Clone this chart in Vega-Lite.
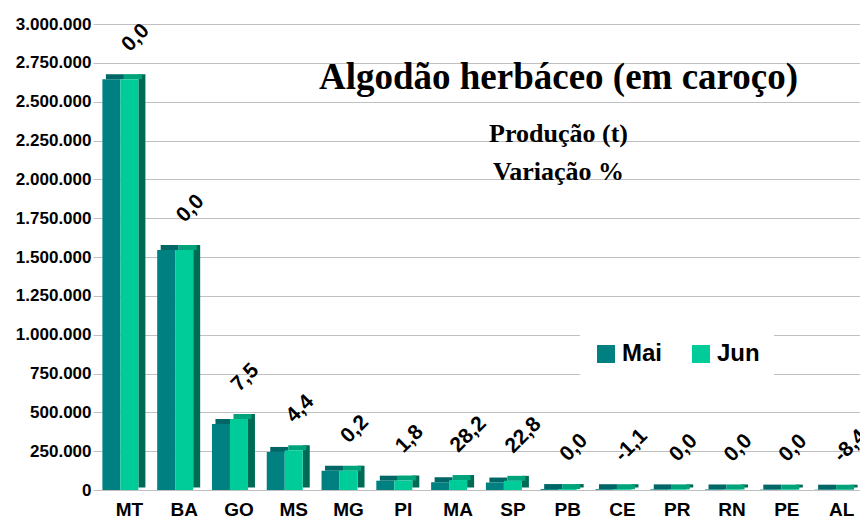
{
  "$schema": "https://vega.github.io/schema/vega-lite/v6.json",
  "autosize": {"type": "none"},
  "padding": {"left": 93, "top": 24, "right": 0, "bottom": 31},
  "width": 767,
  "height": 466,
  "background": "white",
  "config": {
    "locale": {"number": {"decimal": ",", "thousands": ".", "grouping": [3], "currency": ["R$", ""], "minus": "-"}},
    "view": {"stroke": null},
    "axisY": {
      "format": ",.0f",
      "labelOverlap": false,
      "domain": false,
      "ticks": false,
      "grid": true,
      "gridColor": "#c0c0c0",
      "gridWidth": 1,
      "labelFont": "Liberation Sans",
      "labelFontWeight": "bold",
      "labelFontSize": 17,
      "labelColor": "black",
      "labelPadding": 2,
      "title": null
    }
  },
  "title": {
    "text": "Algodão herbáceo (em caroço)",
    "subtitle": ["Produção (t)", "Variação %"],
    "font": "Liberation Serif",
    "fontSize": 37,
    "fontWeight": "bold",
    "color": "black",
    "subtitleFont": "Liberation Serif",
    "subtitleFontSize": 26,
    "subtitleFontWeight": "bold",
    "subtitleColor": "black",
    "subtitleLineHeight": 38,
    "subtitlePadding": 24,
    "anchor": "middle",
    "frame": "group",
    "dx": 82,
    "dy": 171,
    "offset": 0
  },
  "data": {
    "values": [
      {"uf": "MT", "Mai": 2645000, "Jun": 2645000, "var": 0.0},
      {"uf": "BA", "Mai": 1545000, "Jun": 1545000, "var": 0.0},
      {"uf": "GO", "Mai": 425000, "Jun": 457000, "var": 7.5},
      {"uf": "MS", "Mai": 245000, "Jun": 255800, "var": 4.4},
      {"uf": "MG", "Mai": 124000, "Jun": 124250, "var": 0.2},
      {"uf": "PI", "Mai": 60000, "Jun": 61080, "var": 1.8},
      {"uf": "MA", "Mai": 50000, "Jun": 64100, "var": 28.2},
      {"uf": "SP", "Mai": 48000, "Jun": 58940, "var": 22.8},
      {"uf": "PB", "Mai": 6000, "Jun": 6000, "var": 0.0},
      {"uf": "CE", "Mai": 5000, "Jun": 4945, "var": -1.1},
      {"uf": "PR", "Mai": 4000, "Jun": 4000, "var": 0.0},
      {"uf": "RN", "Mai": 3500, "Jun": 3500, "var": 0.0},
      {"uf": "PE", "Mai": 2500, "Jun": 2500, "var": 0.0},
      {"uf": "AL", "Mai": 2000, "Jun": 1832, "var": -8.4}
    ]
  },
  "encoding": {
    "x": {
      "field": "uf",
      "type": "nominal",
      "sort": null,
      "title": null,
      "scale": {"paddingInner": 0.3, "paddingOuter": 0.15},
      "axis": {
        "domain": false,
        "ticks": false,
        "labelAngle": 0,
        "labelFont": "Liberation Sans",
        "labelFontWeight": "bold",
        "labelFontSize": 19,
        "labelColor": "black",
        "labelPadding": 10,
        "labelOffset": 9
      }
    }
  },
  "layer": [
    {
      "mark": {"type": "bar", "color": "#006666", "width": 18, "xOffset": -5.5, "y2Offset": -5},
      "encoding": {
        "y": {"field": "Mai", "type": "quantitative", "scale": {"domain": [0, 3000000], "nice": false},
          "axis": {"values": [0, 250000, 500000, 750000, 1000000, 1250000, 1500000, 1750000, 2000000, 2250000, 2500000, 2750000, 3000000]}},
        "y2": {"field": "Mai"}
      }
    },
    {
      "mark": {"type": "bar", "width": 18, "xOffset": -9},
      "encoding": {
        "y": {"field": "Mai", "type": "quantitative",
          "axis": {"values": [0, 250000, 500000, 750000, 1000000, 1250000, 1500000, 1750000, 2000000, 2250000, 2500000, 2750000, 3000000]}},
        "color": {
          "datum": "Mai",
          "type": "nominal",
          "scale": {"domain": ["Mai", "Jun"], "range": ["#008080", "#00cc99"]},
          "legend": {
            "orient": "none",
            "legendX": 487,
            "legendY": 304,
            "direction": "horizontal",
            "title": null,
            "fillColor": "white",
            "padding": 14,
            "symbolType": "square",
            "symbolSize": 324,
            "symbolStrokeWidth": 0,
            "symbolOpacity": 1,
            "labelFont": "Liberation Sans",
            "labelFontWeight": "bold",
            "labelFontSize": 24,
            "labelColor": "black",
            "labelOffset": 4,
            "columnPadding": 26
          }
        }
      }
    },
    {
      "mark": {"type": "bar", "color": "#006b55", "width": 7, "xOffset": 21.5, "yOffset": -5, "y2Offset": -2.5},
      "encoding": {
        "y": {"field": "Jun", "type": "quantitative",
          "axis": {"values": [0, 250000, 500000, 750000, 1000000, 1250000, 1500000, 1750000, 2000000, 2250000, 2500000, 2750000, 3000000]}},
        "y2": {"datum": 0}
      }
    },
    {
      "mark": {"type": "bar", "color": "#00a37a", "width": 18, "xOffset": 12.5, "y2Offset": -5},
      "encoding": {
        "y": {"field": "Jun", "type": "quantitative",
          "axis": {"values": [0, 250000, 500000, 750000, 1000000, 1250000, 1500000, 1750000, 2000000, 2250000, 2500000, 2750000, 3000000]}},
        "y2": {"field": "Jun"}
      }
    },
    {
      "mark": {"type": "bar", "width": 18, "xOffset": 9},
      "encoding": {
        "y": {"field": "Jun", "type": "quantitative",
          "axis": {"values": [0, 250000, 500000, 750000, 1000000, 1250000, 1500000, 1750000, 2000000, 2250000, 2500000, 2750000, 3000000]}},
        "color": {"datum": "Jun", "type": "nominal"}
      }
    },
    {
      "mark": {
        "type": "text",
        "angle": 315,
        "align": "left",
        "baseline": "middle",
        "font": "Liberation Sans",
        "fontWeight": "bold",
        "fontSize": 21,
        "color": "black",
        "xOffset": 5,
        "yOffset": -31
      },
      "encoding": {
        "y": {"field": "Jun", "type": "quantitative",
          "axis": {"values": [0, 250000, 500000, 750000, 1000000, 1250000, 1500000, 1750000, 2000000, 2250000, 2500000, 2750000, 3000000]}},
        "text": {"field": "var", "type": "quantitative", "format": ".1f"}
      }
    }
  ]
}
